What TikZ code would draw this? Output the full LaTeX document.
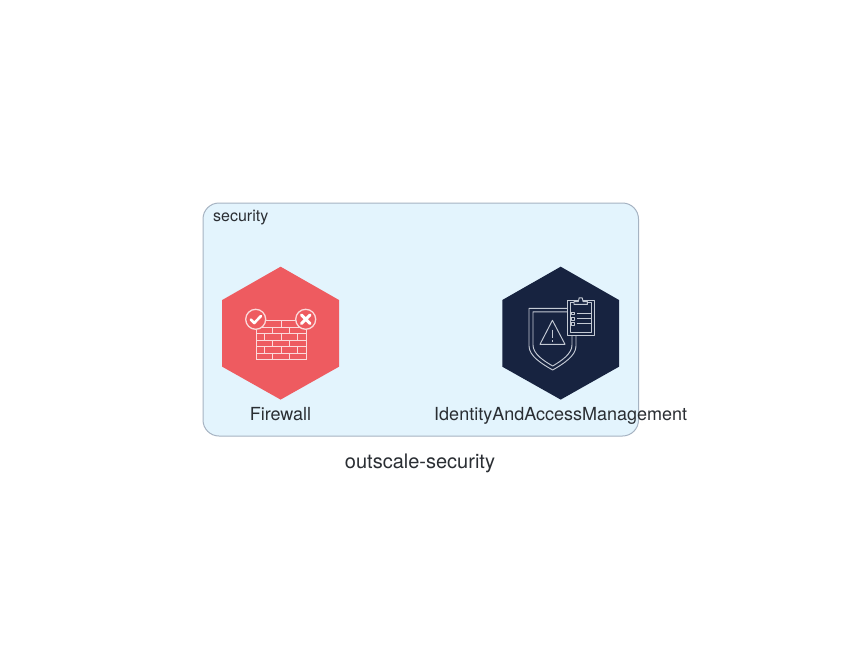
\documentclass[tikz,border=0pt]{standalone}
\usepackage{fontspec}
\setmainfont{TeX Gyre Heros}
\definecolor{boxfill}{HTML}{E3F4FD}
\definecolor{boxline}{HTML}{A6B3C2}
\definecolor{hexred}{HTML}{EE5B60}
\definecolor{hexnavy}{HTML}{172340}
\definecolor{inktext}{HTML}{2A2E33}
\definecolor{navyline}{HTML}{C4CAD4}
\definecolor{wallpink}{HTML}{FBDADB}
\tikzset{
  grouplabel/.style={inner sep=0pt,text=inktext,font=\fontsize{16}{16}\selectfont,anchor=base west},
  itemlabel/.style={inner sep=0pt,text=inktext,font=\fontsize{18}{18}\selectfont,anchor=base},
  titlelabel/.style={inner sep=0pt,text=inktext,font=\fontsize{20}{20}\selectfont,anchor=base},
  wallline/.style={draw=wallpink,line width=1pt},
  iconline/.style={draw=navyline,line width=0.95pt,line join=round},
}
\begin{document}
\begin{tikzpicture}[x=1pt,y=-1pt]
\useasboundingbox (0,0) rectangle (841,672);
\fill[white] (0,0) rectangle (841,672);
% group
\draw[boxline,fill=boxfill,line width=1pt,rounded corners=16pt] (203,203) rectangle (638.5,436);
\node[grouplabel] (grp) at (213,221) {security};
% hexagons
\fill[hexred] (280.6,266.7) -- (339,300) -- (339,366.7) -- (280.6,399.6) -- (222.2,366.7) -- (222.2,300) -- cycle;
\fill[hexnavy] (560.7,266.7) -- (619,300) -- (619,366.7) -- (560.7,399.6) -- (502.3,366.7) -- (502.3,300) -- cycle;
% firewall icon
\begin{scope}[wallline]
  \draw (256.5,320.8) rectangle (306,359.5);
  \foreach \yy in {327.2,333.7,340.1,346.6,353} \draw (256.5,\yy) -- (306,\yy);
  \draw (281,320.8) -- (281,327.2);
  \foreach \xx in {272.7,289} \draw (\xx,327.2) -- (\xx,333.7);
  \foreach \xx in {264.4,281,297.7} \draw (\xx,333.7) -- (\xx,340.1);
  \foreach \xx in {272.7,289} \draw (\xx,340.1) -- (\xx,346.6);
  \foreach \xx in {264.4,281,297.7} \draw (\xx,346.6) -- (\xx,353);
  \foreach \xx in {272.7,289} \draw (\xx,353) -- (\xx,359.5);
\end{scope}
\draw[wallpink,line width=1.3pt,fill=hexred] (255.7,319.3) circle (10);
\draw[wallpink,line width=1.3pt,fill=hexred] (305.7,319.3) circle (10);
\draw[white,line width=2.6pt,line cap=round,line join=round] (250.7,319.5) -- (254.2,323) -- (261,316);
\draw[white,line width=3pt,line cap=round] (301.5,315) -- (310,323.5) (310,315) -- (301.5,323.5);
% shield icon
\begin{scope}[iconline]
  \draw (567,308.3) -- (529,308.3) -- (529,346) .. controls (529,356) and (542,364) .. (552.7,370) .. controls (563,364) and (576,356) .. (576,346) -- (576,335);
  \draw (567,311.8) -- (533,311.8) -- (533,345) .. controls (533,354) and (544,361) .. (552.7,366) .. controls (561,361) and (572,354) .. (572,345) -- (572,335);
  \draw (552.4,320.3) -- (565,344.3) -- (540,344.3) -- cycle;
  \draw (552.5,329.5) -- (552.5,338);
  \draw (552.5,340.3) -- (552.5,342);
  \draw (567.4,300) rectangle (594.4,335);
  \draw (570,302.6) rectangle (591.6,332.2);
  \draw[fill=hexnavy] (574,304.4) -- (574,301.6) -- (578.3,301.6) -- (579.2,297.8) -- (582.2,297.8) -- (583.1,301.6) -- (587.4,301.6) -- (587.4,304.4) -- cycle;
  \foreach \yy in {313.4,318.6,323.6} {
    \draw (571.3,\yy-1.4) rectangle (574.6,\yy+1.4);
    \draw (576.8,\yy) -- (591.4,\yy);
  }
\end{scope}
% labels
\node[itemlabel] (fw) at (280.5,420) {Firewall};
\node[itemlabel] (iam) at (560.7,420) {IdentityAndAccessManagement};
\node[titlelabel] (title) at (420,468) {outscale-security};
\end{tikzpicture}
\end{document}
